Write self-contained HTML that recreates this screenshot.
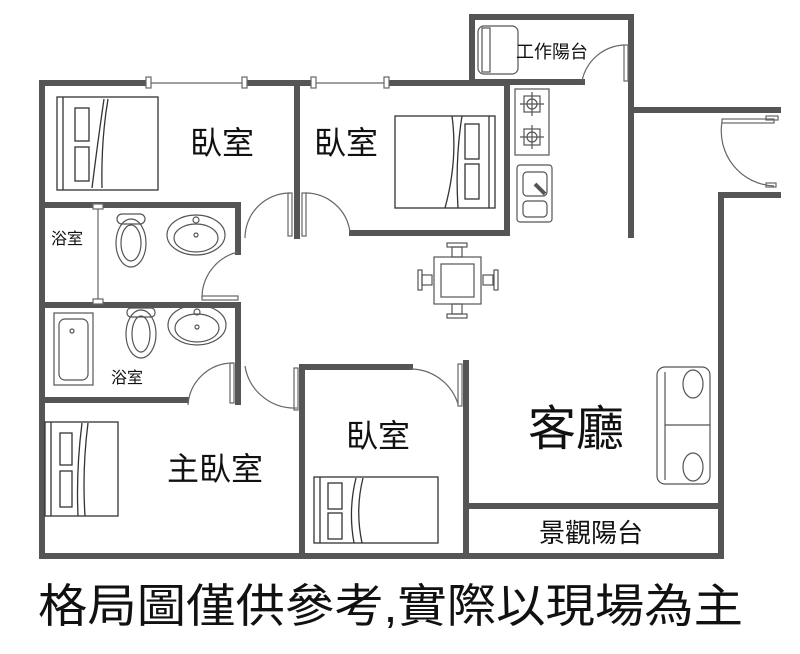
<!DOCTYPE html>
<html><head><meta charset="utf-8"><style>
html,body{margin:0;padding:0;background:#fff;width:800px;height:654px;overflow:hidden}
svg{display:block}
text{font-family:"Liberation Sans","Noto Sans CJK TC",sans-serif;fill:#111}
</style></head><body>
<svg width="800" height="654" viewBox="0 0 800 654" xmlns="http://www.w3.org/2000/svg">
<g stroke="#555" stroke-width="6" fill="none" stroke-linecap="square">
<path d="M42 83 V556 H721 V195 H778"/>
<path d="M42 83 H148 M245 83 H313 M387 83 H507"/>
<path d="M634 110 H778"/>
<path d="M631 17 V235"/>
<path d="M472 82 V17 H631"/>
<path d="M472 82 H582"/>
<path d="M507 82 V233 H352"/>
<path d="M297 83 V236"/>
<path d="M42 205 H238 V252"/>
<path d="M42 305 H238 V402"/>
<path d="M42 400 H186"/>
<path d="M302 556 V367 H410"/>
<path d="M466 363 V556"/>
<path d="M466 506 H721"/>
</g>
<g stroke="#666" stroke-width="1.2" fill="#fff">
<line x1="148" y1="83" x2="245" y2="83"/><line x1="313" y1="83" x2="387" y2="83"/>
<rect x="146" y="77" width="5" height="11"/><rect x="242" y="77" width="5" height="11"/>
<rect x="311" y="77" width="5" height="11"/><rect x="384" y="77" width="5" height="11"/>
<line x1="98" y1="207" x2="98" y2="302"/>
<rect x="93" y="204" width="10" height="5"/><rect x="93" y="299" width="10" height="5"/>
</g>
<g stroke="#666" stroke-width="1.2" fill="none">
<path d="M290 193 A45 45 0 0 0 245 238"/><rect x="288" y="193" width="4" height="43"/>
<path d="M305 193 A45 45 0 0 1 350 232"/><rect x="302" y="193" width="4" height="43"/>
<path d="M238 252 A47 47 0 0 0 202 298"/><rect x="202" y="296" width="36" height="4"/>
<path d="M233 363 A45 45 0 0 0 188 405"/><rect x="230" y="363" width="4" height="40"/>
<path d="M245 366 A50 50 0 0 0 297 408"/><rect x="294" y="368" width="4" height="42"/>
<path d="M410 369 A50 50 0 0 1 458 404"/><rect x="458" y="364" width="4" height="42"/>
<path d="M582 81 A45 45 0 0 1 624 45"/><rect x="624" y="45" width="4" height="36"/>
<path d="M722 122 A55 55 0 0 0 774 186"/><rect x="722" y="119" width="52" height="4"/>
<rect x="766" y="183" width="10" height="4"/><rect x="766" y="116" width="12" height="4"/>
</g>
<g stroke="#333" stroke-width="1.3" fill="#fff">
<rect x="57" y="97" width="101" height="93"/><line x1="63" y1="97" x2="63" y2="190"/>
<rect x="75" y="108" width="14" height="33"/><rect x="75" y="147" width="14" height="34"/>
<path d="M104 99 Q98 140 92 188 M108 99 Q101 140 102 188" fill="none"/>
<rect x="395" y="116" width="100" height="92"/><line x1="489" y1="116" x2="489" y2="208"/>
<rect x="465" y="124" width="14" height="35"/><rect x="465" y="164" width="14" height="35"/>
<path d="M452 116 Q458 160 445 208 M462 116 Q455 160 458 208" fill="none"/>
<rect x="45" y="422" width="73" height="94"/><line x1="51" y1="422" x2="51" y2="516"/>
<rect x="60" y="433" width="12" height="32"/><rect x="60" y="471" width="12" height="36"/>
<path d="M82 423 Q76 470 78 516 M88 423 Q82 470 85 516" fill="none"/>
<rect x="314" y="477" width="124" height="66"/><line x1="320" y1="477" x2="320" y2="543"/>
<rect x="328" y="483" width="14" height="26"/><rect x="328" y="513" width="14" height="26"/>
<path d="M356 478 Q348 510 354 543 M363 478 Q355 510 362 543" fill="none"/>
</g>
<g stroke="#555" stroke-width="1.2" fill="none">
<rect x="117" y="214" width="28" height="10" rx="5"/><ellipse cx="131" cy="243" rx="15" ry="24"/><ellipse cx="131" cy="243" rx="10" ry="18"/>
<ellipse cx="196" cy="235" rx="29" ry="20"/><ellipse cx="196" cy="238" rx="22" ry="14"/><circle cx="196" cy="220" r="3"/><circle cx="196" cy="235" r="2"/>
<rect x="127" y="308" width="28" height="9" rx="4"/><ellipse cx="141" cy="334" rx="15" ry="24"/><ellipse cx="141" cy="334" rx="9" ry="18"/>
<ellipse cx="197" cy="325" rx="29" ry="20"/><ellipse cx="197" cy="328" rx="22" ry="14"/><circle cx="197" cy="312" r="3"/><circle cx="197" cy="327" r="2"/>
<rect x="54" y="313" width="39" height="72"/><rect x="59" y="319" width="29" height="61" rx="6"/><circle cx="72" cy="331" r="2"/>
</g>
<g stroke="#555" stroke-width="1.2" fill="none">
<rect x="515" y="89" width="34" height="66"/>
<rect x="524" y="96" width="16" height="16"/><circle cx="532" cy="104" r="5"/><path d="M532 92 V116 M520 104 H544"/>
<rect x="524" y="129" width="16" height="16"/><circle cx="532" cy="137" r="5"/><path d="M532 125 V149 M520 137 H544"/>
<rect x="517" y="165" width="35" height="57" rx="3"/><rect x="523" y="172" width="24" height="24" rx="4"/><rect x="523" y="201" width="24" height="16" rx="4"/>
<line x1="535" y1="184" x2="545" y2="194" stroke-width="4"/>
<rect x="478" y="26" width="40" height="48" rx="6"/><rect x="482" y="28" width="8" height="44"/>
<rect x="434" y="257" width="47" height="47"/><rect x="441" y="264" width="33" height="33"/>
<rect x="447" y="243" width="20" height="4"/><rect x="452" y="247" width="10" height="10"/>
<rect x="447" y="314" width="20" height="4"/><rect x="452" y="304" width="10" height="10"/>
<rect x="418" y="270" width="4" height="20"/><rect x="422" y="275" width="10" height="10"/>
<rect x="494" y="270" width="4" height="20"/><rect x="483" y="275" width="10" height="10"/>
<rect x="657" y="367" width="53" height="117" rx="8"/><line x1="665" y1="372" x2="665" y2="480"/><line x1="665" y1="425" x2="710" y2="425"/>
<ellipse cx="693" cy="384" rx="10" ry="14"/><ellipse cx="693" cy="467" rx="10" ry="14"/>
</g>
<text x="222" y="154" font-size="32" text-anchor="middle">臥室</text>
<text x="346" y="154" font-size="32" text-anchor="middle">臥室</text>
<text x="67" y="244" font-size="16" text-anchor="middle">浴室</text>
<text x="127" y="383" font-size="16" text-anchor="middle">浴室</text>
<text x="215" y="480" font-size="32" text-anchor="middle">主臥室</text>
<text x="378" y="447" font-size="32" text-anchor="middle">臥室</text>
<text x="576" y="445" font-size="48" text-anchor="middle">客廳</text>
<text x="591" y="542" font-size="26" text-anchor="middle">景觀陽台</text>
<text x="552" y="58" font-size="18" text-anchor="middle">工作陽台</text>
<text x="38" y="622" font-size="46" textLength="705" lengthAdjust="spacingAndGlyphs">格局圖僅供參考,實際以現場為主</text>
</svg>
</body></html>
